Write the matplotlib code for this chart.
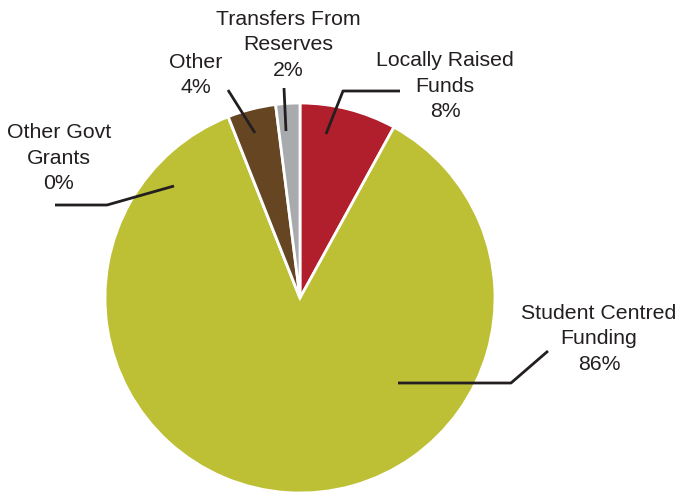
import matplotlib
matplotlib.use("Agg")
import matplotlib.pyplot as plt

# school revenue sources
labels = ["Locally Raised\nFunds", "Student Centred\nFunding", "Other Govt\nGrants",
          "Other", "Transfers From\nReserves"]
shares = [8, 86, 0, 4, 2]
colors = ["#b01f2b", "#bdbf35", "#bdbf35", "#664522", "#a8aaad"]

W, H = 681, 493
TXT = "#231f20"

# label block centres and leader line points, in pixels from top-left
label_pos = [(445, 86), (599, 339), (59, 158), (196, 75), (288, 45)]
leaders = [
    [(326, 134), (343, 91), (400, 91)],
    [(398, 383), (511, 383), (548, 351)],
    [(174, 186), (107, 205), (55, 205)],
    [(255, 133), (228, 90)],
    [(286, 131), (284, 88)],
]

plt.rcParams["font.family"] = ["Liberation Sans", "DejaVu Sans"]

fig = plt.figure(figsize=(W / 100, H / 100), dpi=100)
ax = fig.add_axes([0, 0, 1, 1])

ax.pie(shares, colors=colors, startangle=90, counterclock=False,
       center=(300, H - 298), radius=195,
       wedgeprops=dict(edgecolor="white", linewidth=2))

ax.set_xlim(0, W)
ax.set_ylim(0, H)
ax.set_aspect("equal")
ax.axis("off")

for lab, val, (tx, ty), pts in zip(labels, shares, label_pos, leaders):
    ax.text(tx, H - ty, "%s\n%d%%" % (lab, val), ha="center", va="center",
            fontsize=15.3, color=TXT, linespacing=1.42)
    xs = [p[0] for p in pts]
    ys = [H - p[1] for p in pts]
    ax.plot(xs, ys, color=TXT, lw=2, solid_capstyle="butt")

fig.savefig("out.png", dpi=100)
